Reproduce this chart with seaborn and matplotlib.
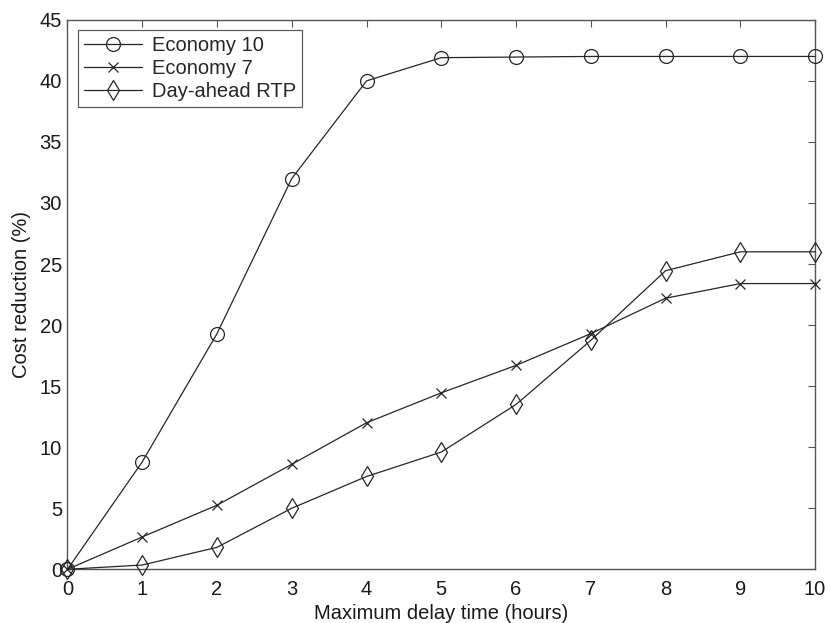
import matplotlib
matplotlib.use("Agg")
import matplotlib.pyplot as plt
import seaborn as sns
import pandas as pd

# Maximum delay time (hours) and cost reduction (%) per tariff
delay_hours = [0, 1, 2, 3, 4, 5, 6, 7, 8, 9, 10]
economy10 = [0, 8.8, 19.3, 32.0, 40.0, 41.9, 41.95, 42.0, 42.0, 42.0, 42.0]
economy7 = [0, 2.65, 5.25, 8.6, 12.0, 14.45, 16.7, 19.3, 22.2, 23.4, 23.4]
dayahead_rtp = [0, 0.35, 1.8, 5.0, 7.6, 9.6, 13.5, 18.75, 24.45, 26.0, 26.0]

series_names = ["Economy 10", "Economy 7", "Day-ahead RTP"]
series_values = [economy10, economy7, dayahead_rtp]
series_markers = ["o", "x", "d"]
marker_sizes = {"o": 10, "x": 7, "d": 10.5}

sns.set_theme(style="white")
plt.rcParams["font.family"] = ["Liberation Sans", "DejaVu Sans"]

fig = plt.figure(figsize=(8.27, 6.23), dpi=100)
ax = fig.add_axes([0.0816, 0.0862, 0.904, 0.882])

ink = "#262626"
for name, vals, mk in zip(series_names, series_values, series_markers):
    df = pd.DataFrame({"delay": delay_hours, "reduction": vals})
    sns.lineplot(
        data=df, x="delay", y="reduction", ax=ax, label=name,
        color=ink, linewidth=0.9, marker=mk, markersize=marker_sizes[mk],
        markerfacecolor="none", markeredgecolor=ink, markeredgewidth=0.9,
        clip_on=False, zorder=3,
    )

ax.set_xlim(0, 10)
ax.set_ylim(0, 45)
ax.set_xticks(range(0, 11))
ax.set_yticks(range(0, 46, 5))
ax.tick_params(axis="both", direction="in", length=5, width=0.8,
               color="#555555", labelsize=14.5, labelcolor="#1a1a1a",
               top=True, right=True)
ax.tick_params(axis="x", pad=7.5)
ax.tick_params(axis="y", pad=4)
for sp in ax.spines.values():
    sp.set_visible(True)
    sp.set_color("#555555")
    sp.set_linewidth(1.0)

ax.set_xlabel("Maximum delay time (hours)", fontsize=14.5, color="#1a1a1a", labelpad=4)
ax.set_ylabel("Cost reduction (%)", fontsize=14.5, color="#1a1a1a", labelpad=6)

leg = ax.legend(loc="upper left", fontsize=14.5, frameon=True, fancybox=False,
                edgecolor="#333333", handlelength=2.9, borderpad=0.3,
                labelspacing=0.2, handletextpad=0.5, borderaxespad=0.5)
leg.get_frame().set_linewidth(0.9)

fig.savefig("out.png", dpi=100)
